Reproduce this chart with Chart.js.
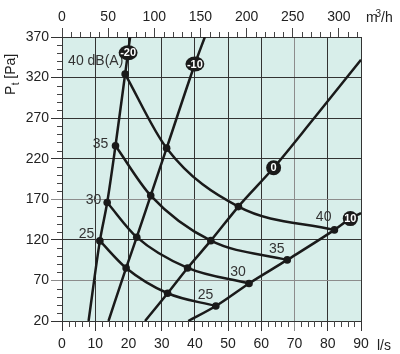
<!DOCTYPE html>
<html>
<head>
<meta charset="utf-8">
<script src="https://cdn.jsdelivr.net/npm/chart.js@4/dist/chart.umd.min.js"></script>
<style>
  html, body { margin: 0; padding: 0; background: #fff; }
  #wrap { width: 400px; height: 354px; }
</style>
</head>
<body>
<div id="wrap"><canvas id="chart" width="400" height="354"></canvas></div>
<script>
// axis ticks
const flowTicks = [0, 10, 20, 30, 40, 50, 60, 70, 80, 90];          // l/s
const airTicks = [0, 50, 100, 150, 200, 250, 300];                  // m3/h
const presTicks = [20, 70, 120, 170, 220, 270, 320, 370];           // Pa

// fan speed lines (l/s, Pa)
const fanM20Flow = [8, 11.4, 13.6, 16.1, 19.0, 20.5];
const fanM20Pres = [20, 118.7, 166, 236, 324.3, 370];
const fanM10Flow = [14, 19.3, 22.5, 26.7, 31.5, 40.0, 43.0];
const fanM10Pres = [20, 85.4, 123.3, 174.6, 233, 336.7, 370];
const fan0Flow = [25, 31.8, 37.8, 44.8, 53.1, 63.7, 75.5, 90];
const fan0Pres = [20, 54.2, 85.4, 119, 161, 208.8, 268, 342];
const fan10Flow = [38, 46.3, 56.3, 67.8, 82.0, 86.8, 90];
const fan10Pres = [20, 38.5, 66.3, 95.3, 132.3, 146.2, 153];

// sound level curves dB(A)
const db25Flow = [11.4, 19.3, 31.8, 46.3];
const db25Pres = [118.7, 85.4, 54.2, 38.5];
const db30Flow = [13.6, 22.5, 37.8, 56.3];
const db30Pres = [166, 123.3, 85.4, 66.3];
const db35Flow = [16.1, 26.7, 44.8, 67.8];
const db35Pres = [236, 174.6, 119, 95.3];
const db40Flow = [19.0, 31.5, 53.1, 82.0];
const db40Pres = [324.3, 233, 161, 132.3];

// labels
const fanLabels = ['-20', '-10', '0', '10'];
const fanLabelFlow = [19.9, 40.0, 63.7, 86.8];
const fanLabelPres = [350.6, 336.7, 208.8, 146.2];
const dbLabels = ['40 dB(A)', '35', '30', '25', '40', '35', '30', '25'];
const dbLabelFlow = [10.15, 11.6, 9.5, 7.35, 78.75, 64.65, 53.0, 43.2];
const dbLabelPres = [339.9, 237.7, 168.9, 126.5, 147.7, 108.8, 79.6, 51.7];

const fontFam = '"Liberation Sans", Arial, Helvetica, sans-serif';
const ink = '#1a1a1a';

function pts(xs, ys) {
  return xs.map((v, i) => ({ x: v, y: ys[i] }));
}

function fanLine(xs, ys) {
  return {
    data: pts(xs, ys),
    borderColor: ink,
    borderWidth: 2.5,
    pointRadius: 0,
    cubicInterpolationMode: 'monotone',
    fill: false
  };
}

function dbLine(xs, ys) {
  return {
    data: pts(xs, ys),
    borderColor: ink,
    borderWidth: 2.5,
    pointRadius: 3.8,
    pointBackgroundColor: ink,
    pointBorderWidth: 0,
    cubicInterpolationMode: 'monotone',
    fill: false
  };
}

function gridColor(gray) {
  return c => gray.includes(c.tick && c.tick.value) ? '#8c8c8c' : '#333';
}

const plotBg = {
  id: 'plotBg',
  beforeDraw(chart) {
    const { ctx, chartArea: a } = chart;
    ctx.save();
    ctx.fillStyle = '#d8eeea';
    ctx.fillRect(a.left, a.top, a.right - a.left, a.bottom - a.top);
    ctx.restore();
  }
};

const extras = {
  id: 'extras',
  afterDraw(chart) {
    const { ctx, chartArea: a, scales } = chart;
    const x = scales.x, x2 = scales.x2, y = scales.y;
    ctx.save();

    // minor ticks
    ctx.strokeStyle = '#444';
    ctx.lineWidth = 1;
    ctx.beginPath();
    for (let v = 2; v < 90; v += 2) {
      if (v % 10 === 0) continue;
      const px = Math.round(x.getPixelForValue(v)) + 0.5;
      ctx.moveTo(px, a.bottom); ctx.lineTo(px, a.bottom + 6);
    }
    for (let v = 10; v < 324; v += 10) {
      if (v % 50 === 0) continue;
      const px = Math.round(x2.getPixelForValue(v)) + 0.5;
      ctx.moveTo(px, a.top); ctx.lineTo(px, a.top - 5);
    }
    for (let v = 30; v < 370; v += 10) {
      if ((v - 20) % 50 === 0) continue;
      const py = Math.round(y.getPixelForValue(v)) + 0.5;
      ctx.moveTo(a.left, py); ctx.lineTo(a.left - 5, py);
    }
    ctx.stroke();

    // right border
    ctx.strokeStyle = '#333';
    ctx.beginPath();
    ctx.moveTo(Math.round(a.right) + 0.5, a.top);
    ctx.lineTo(Math.round(a.right) + 0.5, a.bottom);
    ctx.stroke();

    // sound level labels
    ctx.fillStyle = '#333';
    ctx.font = '14px ' + fontFam;
    ctx.textAlign = 'center';
    ctx.textBaseline = 'middle';
    dbLabels.forEach((t, i) => {
      ctx.fillText(t, x.getPixelForValue(dbLabelFlow[i]), y.getPixelForValue(dbLabelPres[i]));
    });

    // fan setting badges
    ctx.font = 'bold 11px ' + fontFam;
    fanLabels.forEach((t, i) => {
      const px = x.getPixelForValue(fanLabelFlow[i]);
      const py = y.getPixelForValue(fanLabelPres[i]);
      const w = Math.max(15, ctx.measureText(t).width + 3);
      ctx.fillStyle = ink;
      ctx.beginPath();
      ctx.ellipse(px, py, w / 2, 7.5, 0, 0, Math.PI * 2);
      ctx.fill();
      ctx.fillStyle = '#fff';
      ctx.fillText(t, px, py + 0.5);
    });

    // unit labels
    ctx.fillStyle = '#222';
    ctx.textAlign = 'left';
    ctx.textBaseline = 'alphabetic';
    ctx.font = '14px ' + fontFam;
    ctx.fillText('m', 366, 22);
    ctx.font = '10px ' + fontFam;
    ctx.fillText('3', 375.5, 16.5);
    ctx.font = '14px ' + fontFam;
    ctx.fillText('/h', 381, 22);
    ctx.fillText('l/s', 377, 350);

    // y title P_t [Pa]
    ctx.translate(14.5, 95);
    ctx.rotate(-Math.PI / 2);
    ctx.fillText('P', 0, 0);
    const pw = ctx.measureText('P').width;
    ctx.font = '10px ' + fontFam;
    ctx.fillText('t', pw + 0.5, 4);
    ctx.font = '14px ' + fontFam;
    ctx.fillText('[Pa]', pw + 7, 0);

    ctx.restore();
  }
};

const tickFont = { family: fontFam, size: 14 };

new Chart(document.getElementById('chart'), {
  type: 'line',
  data: {
    datasets: [
      fanLine(fanM20Flow, fanM20Pres),
      fanLine(fanM10Flow, fanM10Pres),
      fanLine(fan0Flow, fan0Pres),
      fanLine(fan10Flow, fan10Pres),
      dbLine(db25Flow, db25Pres),
      dbLine(db30Flow, db30Pres),
      dbLine(db35Flow, db35Pres),
      dbLine(db40Flow, db40Pres)
    ]
  },
  options: {
    responsive: false,
    animation: false,
    devicePixelRatio: 1,
    layout: { padding: { left: 0, right: 39, top: 0, bottom: 0 } },
    plugins: { legend: { display: false }, tooltip: { enabled: false } },
    scales: {
      x: {
        type: 'linear', position: 'bottom', min: 0, max: 90,
        afterBuildTicks: s => { s.ticks = flowTicks.map(v => ({ value: v })); },
        afterFit: s => { s.height = 33; },
        ticks: { font: tickFont, color: '#222', padding: 5, maxRotation: 0 },
        grid: { color: gridColor([70]), tickLength: 10, lineWidth: 1 },
        border: { color: '#333' }
      },
      x2: {
        type: 'linear', position: 'top', min: 0, max: 324,
        afterBuildTicks: s => { s.ticks = airTicks.map(v => ({ value: v })); },
        afterFit: s => { s.height = 37; },
        ticks: { font: tickFont, color: '#222', padding: 2, maxRotation: 0 },
        grid: { drawOnChartArea: false, color: '#444', tickLength: 9 },
        border: { color: '#333' }
      },
      y: {
        type: 'linear', position: 'left', min: 20, max: 370,
        afterBuildTicks: s => { s.ticks = presTicks.map(v => ({ value: v })); },
        afterFit: s => { s.width = 62; },
        ticks: { font: tickFont, color: '#222', padding: 2 },
        grid: { color: gridColor([70, 170]), tickLength: 11, lineWidth: 1 },
        border: { color: '#333' }
      }
    }
  },
  plugins: [plotBg, extras]
});
</script>
</body>
</html>
